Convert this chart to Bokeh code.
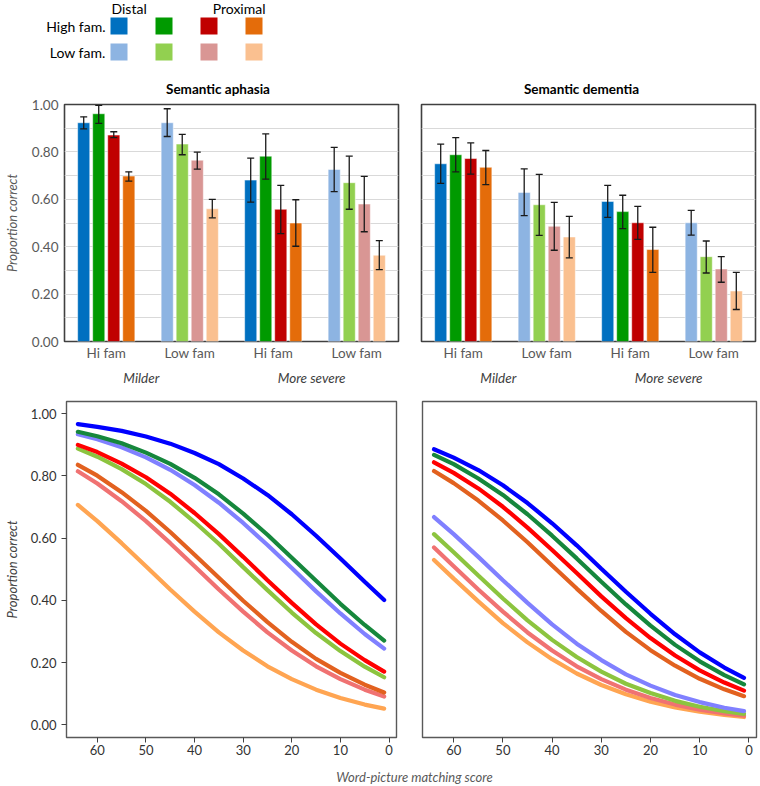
from bokeh.plotting import figure
from bokeh.layouts import column, row
from bokeh.models import (Range1d, LinearAxis, FixedTicker, ColumnDataSource,
                          Whisker, TeeHead, NumeralTickFormatter)
from bokeh.embed import file_html
from bokeh.resources import INLINE
from bokeh.core.properties import value

FONT = "Lato"
GREY = "#595959"

# ---------------- data ----------------
panel_titles = ["Semantic aphasia", "Semantic dementia"]
fam_labels = ["Hi fam", "Low fam", "Hi fam", "Low fam"]
severity_labels = ["Milder", "More severe"]
legend_rows = ["High fam.", "Low fam."]
legend_cols = ["Distal", "Proximal"]

hi_colors = ["#0070C0", "#009A00", "#C00000", "#E46C0A"]
lo_colors = ["#8DB4E2", "#92D050", "#D99694", "#FAC090"]

# order: Milder-Hi, Milder-Low, Severe-Hi, Severe-Low ; 4 bars each
sa_mean = [0.923, 0.961, 0.871, 0.698, 0.923, 0.833, 0.765, 0.560,
           0.681, 0.782, 0.558, 0.500, 0.726, 0.670, 0.580, 0.364]
sa_low = [0.897, 0.920, 0.860, 0.677, 0.865, 0.788, 0.727, 0.522,
          0.588, 0.685, 0.455, 0.402, 0.632, 0.558, 0.463, 0.303]
sa_high = [0.948, 0.996, 0.885, 0.716, 0.982, 0.874, 0.799, 0.600,
           0.774, 0.876, 0.659, 0.598, 0.819, 0.782, 0.697, 0.426]

sd_mean = [0.750, 0.788, 0.772, 0.735, 0.629, 0.577, 0.486, 0.441,
           0.591, 0.548, 0.501, 0.388, 0.501, 0.358, 0.306, 0.213]
sd_low = [0.667, 0.716, 0.706, 0.662, 0.531, 0.448, 0.385, 0.353,
          0.524, 0.476, 0.431, 0.292, 0.449, 0.289, 0.250, 0.135]
sd_high = [0.833, 0.860, 0.838, 0.806, 0.728, 0.705, 0.587, 0.528,
           0.659, 0.617, 0.570, 0.482, 0.553, 0.424, 0.358, 0.292]

bar_y_ticks = [0.0, 0.2, 0.4, 0.6, 0.8, 1.0]
bar_grid_ticks = [0.1, 0.2, 0.3, 0.4, 0.5, 0.6, 0.7, 0.8, 0.9]

# line charts: word-picture matching score vs proportion correct
scores = [64, 60, 55, 50, 45, 40, 35, 30, 25, 20, 15, 10, 5, 1]
score_ticks = [0, 10, 20, 30, 40, 50, 60]
line_y_ticks = [0.0, 0.2, 0.4, 0.6, 0.8, 1.0]

line_colors = {
    "blue": "#0000FF", "green": "#16873C", "peri": "#8080FF", "red": "#FF0000",
    "lgreen": "#8CC43F", "dorange": "#E2611F", "pink": "#F07272", "lorange": "#FFA552",
}

sa_blue = [0.967, 0.958, 0.945, 0.927, 0.904, 0.874, 0.838, 0.792, 0.739, 0.677, 0.608, 0.535, 0.460, 0.401]
sa_green = [0.942, 0.928, 0.905, 0.875, 0.839, 0.794, 0.741, 0.679, 0.611, 0.537, 0.463, 0.389, 0.321, 0.271]
sa_peri = [0.934, 0.918, 0.892, 0.860, 0.820, 0.771, 0.714, 0.649, 0.578, 0.504, 0.429, 0.358, 0.292, 0.245]
sa_red = [0.900, 0.877, 0.840, 0.796, 0.743, 0.681, 0.613, 0.540, 0.465, 0.392, 0.323, 0.261, 0.208, 0.171]
sa_lgreen = [0.888, 0.862, 0.822, 0.774, 0.717, 0.652, 0.582, 0.507, 0.433, 0.361, 0.295, 0.237, 0.187, 0.153]
sa_dorange = [0.836, 0.801, 0.748, 0.688, 0.620, 0.547, 0.473, 0.399, 0.330, 0.267, 0.212, 0.167, 0.129, 0.104]
sa_pink = [0.815, 0.776, 0.719, 0.655, 0.584, 0.510, 0.435, 0.364, 0.297, 0.239, 0.188, 0.147, 0.113, 0.091]
sa_lorange = [0.707, 0.655, 0.584, 0.510, 0.435, 0.364, 0.297, 0.239, 0.188, 0.147, 0.113, 0.086, 0.065, 0.052]

sd_blue = [0.886, 0.859, 0.819, 0.770, 0.713, 0.648, 0.577, 0.502, 0.428, 0.357, 0.291, 0.233, 0.184, 0.151]
sd_green = [0.868, 0.838, 0.792, 0.739, 0.677, 0.608, 0.535, 0.460, 0.387, 0.319, 0.257, 0.204, 0.160, 0.130]
sd_red = [0.844, 0.810, 0.760, 0.701, 0.634, 0.562, 0.488, 0.413, 0.343, 0.279, 0.223, 0.175, 0.136, 0.110]
sd_dorange = [0.816, 0.777, 0.721, 0.657, 0.587, 0.512, 0.438, 0.366, 0.299, 0.240, 0.190, 0.148, 0.114, 0.092]
sd_peri = [0.668, 0.613, 0.540, 0.465, 0.392, 0.323, 0.261, 0.208, 0.162, 0.126, 0.096, 0.073, 0.055, 0.044]
sd_lgreen = [0.613, 0.555, 0.480, 0.406, 0.336, 0.273, 0.218, 0.171, 0.132, 0.102, 0.077, 0.058, 0.044, 0.035]
sd_pink = [0.570, 0.510, 0.435, 0.364, 0.297, 0.239, 0.188, 0.147, 0.113, 0.086, 0.065, 0.049, 0.037, 0.029]
sd_lorange = [0.530, 0.470, 0.397, 0.327, 0.265, 0.211, 0.165, 0.128, 0.098, 0.074, 0.056, 0.042, 0.032, 0.025]

sa_curves = [("lorange", sa_lorange), ("pink", sa_pink), ("dorange", sa_dorange), ("lgreen", sa_lgreen),
             ("red", sa_red), ("peri", sa_peri), ("green", sa_green), ("blue", sa_blue)]
sd_curves = [("lorange", sd_lorange), ("pink", sd_pink), ("lgreen", sd_lgreen), ("peri", sd_peri),
             ("dorange", sd_dorange), ("red", sd_red), ("green", sd_green), ("blue", sd_blue)]

# ---------------- helpers ----------------
BAR_W = 0.145
STEP = 0.18


def blank_fig(w, h, x0, x1, y0, y1):
    p = figure(width=w, height=h, x_range=Range1d(x0, x1), y_range=Range1d(y0, y1),
               output_backend="svg", toolbar_location=None,
               x_axis_location=None, y_axis_location=None,
               min_border_left=0, min_border_right=0, min_border_top=0, min_border_bottom=0)
    p.outline_line_color = None
    p.grid.visible = False
    return p


def style_labels(ax, size, color, style="normal"):
    ax.major_label_text_font = FONT
    ax.major_label_text_font_size = size
    ax.major_label_text_color = color
    ax.major_label_text_font_style = style


def no_ticks(ax):
    ax.axis_line_color = None
    ax.major_tick_line_color = None
    ax.minor_tick_line_color = None
    ax.major_tick_out = 0
    ax.major_tick_in = 0
    ax.minor_tick_out = 0
    ax.minor_tick_in = 0


def bar_fig(mean, low, high, width, bl, br, with_y):
    xs, cols = [], []
    for g in range(4):
        pal = hi_colors if g % 2 == 0 else lo_colors
        for k in range(4):
            xs.append(g + 0.5 + (k - 1.5) * STEP)
            cols.append(pal[k])
    src = ColumnDataSource(dict(x=xs, mean=mean, low=low, high=high, color=cols))

    p = figure(width=width, height=296, x_range=Range1d(0, 4), y_range=Range1d(0, 1),
               output_backend="svg", toolbar_location=None,
               y_axis_location="left" if with_y else None,
               min_border_left=bl, min_border_right=br, min_border_top=8, min_border_bottom=51)
    p.outline_line_color = "#404040"
    p.outline_line_width = 1.6
    p.xgrid.grid_line_color = None
    p.ygrid.ticker = FixedTicker(ticks=bar_grid_ticks)
    p.ygrid.grid_line_color = "#D9D9D9"
    p.ygrid.grid_line_width = 1

    if with_y:
        yax = p.yaxis[0]
        yax.ticker = FixedTicker(ticks=bar_y_ticks)
        yax.formatter = NumeralTickFormatter(format="0.00")
        no_ticks(yax)
        yax.major_label_standoff = 6
        style_labels(yax, "13.5px", GREY)
        yax.axis_label = "Proportion correct"
        yax.axis_label_text_font = FONT
        yax.axis_label_text_font_size = "13px"
        yax.axis_label_text_font_style = "italic"
        yax.axis_label_text_color = GREY
        yax.axis_label_standoff = 9

    xax = p.xaxis[0]
    xax.ticker = FixedTicker(ticks=[0.5, 1.5, 2.5, 3.5])
    xax.major_label_overrides = {0.5: fam_labels[0], 1.5: fam_labels[1],
                                 2.5: fam_labels[2], 3.5: fam_labels[3]}
    no_ticks(xax)
    xax.major_label_standoff = 3
    style_labels(xax, "13.5px", GREY)

    ax2 = LinearAxis(ticker=FixedTicker(ticks=[0.92, 2.96]),
                     major_label_overrides={0.92: severity_labels[0], 2.96: severity_labels[1]})
    no_ticks(ax2)
    ax2.major_label_standoff = 6
    style_labels(ax2, "13.5px", "#404040", "italic")
    p.add_layout(ax2, "below")

    p.vbar(x="x", top="mean", width=BAR_W, bottom=0, source=src, fill_color="color",
           line_color="white", line_alpha=0.5, line_width=1)
    w = Whisker(source=src, base="x", upper="high", lower="low",
                line_color="#1A1A1A", line_width=1.3,
                upper_head=TeeHead(size=7, line_color="#1A1A1A", line_width=1.3),
                lower_head=TeeHead(size=7, line_color="#1A1A1A", line_width=1.3))
    w.level = "overlay"
    p.add_layout(w)
    return p


def line_fig(curves, width, bl, br, with_y):
    p = figure(width=width, height=374, x_range=Range1d(66.34, -1.54),
               y_range=Range1d(-0.0408, 1.0395),
               output_backend="svg", toolbar_location=None,
               y_axis_location="left" if with_y else None,
               min_border_left=bl, min_border_right=br, min_border_top=9, min_border_bottom=29)
    p.grid.visible = False
    p.outline_line_color = "#595959"
    p.outline_line_width = 1.4

    xax = p.xaxis[0]
    xax.ticker = FixedTicker(ticks=score_ticks)
    xax.axis_line_color = None
    xax.major_tick_line_color = "#404040"
    xax.major_tick_out = 5
    xax.major_tick_in = 0
    xax.minor_tick_line_color = None
    xax.minor_tick_out = 0
    xax.minor_tick_in = 0
    xax.major_label_standoff = 2
    style_labels(xax, "13px", "#333333")

    if with_y:
        yax = p.yaxis[0]
        yax.ticker = FixedTicker(ticks=line_y_ticks)
        yax.formatter = NumeralTickFormatter(format="0.00")
        yax.axis_line_color = None
        yax.major_tick_line_color = "#404040"
        yax.major_tick_out = 5
        yax.major_tick_in = 0
        yax.minor_tick_line_color = None
        yax.minor_tick_out = 0
        yax.minor_tick_in = 0
        yax.major_label_standoff = 5
        style_labels(yax, "13px", "#333333")
        yax.axis_label = "Proportion correct"
        yax.axis_label_text_font = FONT
        yax.axis_label_text_font_size = "13px"
        yax.axis_label_text_font_style = "italic"
        yax.axis_label_text_color = "#404040"
        yax.axis_label_standoff = 8

    for key, vals in curves:
        p.line(x=scores, y=vals, line_color=line_colors[key], line_width=4.2, line_cap="round")
    return p


# ---------------- legend + panel titles ----------------
head = blank_fig(759, 96, 0, 759, 96, 0)
sq_x = [118.5, 163.5, 208.5, 253.5]
sq_y = [25.5, 51.5]
for r, pal in enumerate([hi_colors, lo_colors]):
    head.rect(x=sq_x, y=[sq_y[r]] * 4, width=17, height=17, fill_color=pal, line_color=None)
head.text(x=[111], y=[8], text=[legend_cols[0]], text_font=value(FONT), text_font_size="14px",
          text_align="left", text_baseline="middle", text_color="black")
head.text(x=[265], y=[8], text=[legend_cols[1]], text_font=value(FONT), text_font_size="14px",
          text_align="right", text_baseline="middle", text_color="black")
head.text(x=[105, 105], y=sq_y, text=legend_rows, text_font=value(FONT), text_font_size="14px",
          text_align="right", text_baseline="middle", text_color="black")
head.text(x=[217.5, 581], y=[88, 88], text=panel_titles, text_font=value(FONT),
          text_font_size="13.5px", text_font_style="bold", text_align="center",
          text_baseline="middle", text_color="black")

# ---------------- panels ----------------
bar_sa = bar_fig(sa_mean, sa_low, sa_high, 400, 63, 2, True)
bar_sd = bar_fig(sd_mean, sd_low, sd_high, 359, 21, 4, False)
line_sa = line_fig(sa_curves, 400, 62, 4, True)
line_sd = line_fig(sd_curves, 359, 22, 3, False)

footer = blank_fig(759, 19, 0, 759, 19, 0)
footer.text(x=[414], y=[10], text=["Word-picture matching score"], text_font=value(FONT),
            text_font_size="13px", text_font_style="italic", text_align="center",
            text_baseline="middle", text_color=GREY)

layout = column(head, row(bar_sa, bar_sd), row(line_sa, line_sd), footer)

open("out.html", "w").write(file_html(layout, INLINE))
